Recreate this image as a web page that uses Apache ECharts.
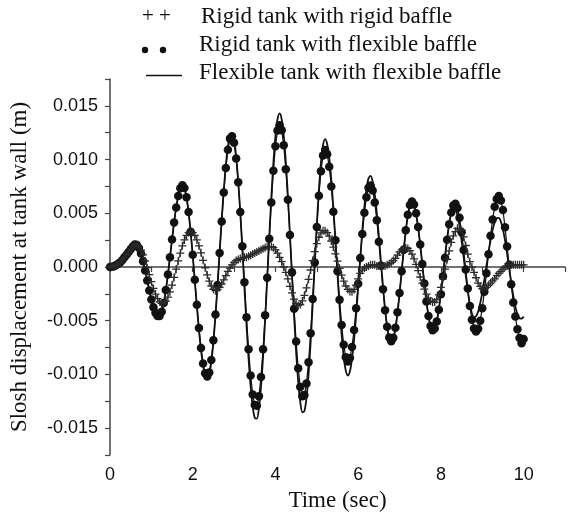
<!DOCTYPE html>
<html><head><meta charset="utf-8">
<script src="https://cdn.jsdelivr.net/npm/echarts@6/dist/echarts.min.js"></script>
<style>html,body{margin:0;padding:0;background:#fff}#c{width:568px;height:520px}</style>
</head><body><div id="c"></div>
<script>
// sampling step of the time series (s), first sample at t = 0
const tStep = 0.05;
// Rigid tank with rigid baffle (+)
const rigidRigid = [
0,0.00002,0.00008,0.00018,0.0003,0.00045,0.00065,0.0009,0.00115,0.0014,0.00165,0.0019,0.0021,0.00207,0.0019,0.00157,0.00112,0.00057,-0.00006,-0.00072,
-0.00137,-0.00199,-0.00252,-0.00295,-0.00324,-0.00339,-0.00337,-0.00317,-0.00281,-0.00231,-0.00168,-0.00097,-0.0002,0.00057,0.0013,0.00197,0.00252,0.00294,0.0032,0.0033,
0.00321,0.00294,0.00252,0.00197,0.00132,0.00062,-0.00008,-0.00074,-0.00132,-0.00177,-0.00207,-0.0022,-0.0021,-0.0019,-0.0016,-0.0012,-0.0008,-0.0004,-0.0001,0.0002,
0.0004,0.0006,0.0007,0.0008,0.0008,0.0009,0.0009,0.001,0.0011,0.0012,0.0013,0.0014,0.0015,0.0016,0.0017,0.0018,0.0019,0.0019,0.0019,0.0018,
0.0016,0.0013,0.0009,0.0005,0.0,-0.0005,-0.0011,-0.0018,-0.0024,-0.003,-0.0034,-0.0036,-0.00349,-0.00316,-0.00264,-0.00195,-0.00115,-0.00028,0.0006,0.00144,
0.00218,0.00277,0.00318,0.00338,0.00337,0.00319,0.00287,0.00242,0.00186,0.00122,0.00055,-0.00012,-0.00076,-0.00132,-0.00177,-0.00209,-0.00227,-0.0023,-0.0021,-0.0017,
-0.0011,-0.0006,-0.0003,-0.0001,0.0,0.0001,0.0002,0.0002,0.0002,0.0001,0.0001,0.0001,0.0001,0.0001,0.0002,0.0003,0.0004,0.0006,0.0008,0.0011,
0.0014,0.0016,0.0017,0.0018,0.00173,0.00152,0.0012,0.00076,0.00024,-0.00033,-0.00093,-0.0015,-0.00206,-0.00253,-0.0029,-0.00316,-0.00329,-0.00326,-0.00303,-0.0026,
-0.0019,-0.0011,-0.0002,0.0007,0.0015,0.0023,0.0029,0.0033,0.0036,0.0036,0.0034,0.0028,0.002,0.0012,0.0005,0.0,-0.0005,-0.001,-0.0015,-0.0018,
-0.002,-0.002,-0.0019,-0.0017,-0.0015,-0.0013,-0.0011,-0.0008,-0.0006,-0.0004,-0.0002,0.0,0.0001,0.0002,0.0002,0.0002,0.0002,0.0002,0.0002,0.0002,
0.0002
];
// Rigid tank with flexible baffle (dots)
const rigidFlex = [
0,0.00002,0.00008,0.00018,0.0003,0.00045,0.00065,0.0009,0.00115,0.0014,0.00165,0.0019,0.0021,0.00205,0.00177,0.00125,0.00053,-0.00032,-0.00125,-0.00218,
-0.00303,-0.00375,-0.00427,-0.00455,-0.00456,-0.00416,-0.00334,-0.00215,-0.0007,0.00091,0.00257,0.00415,0.00554,0.00662,0.00733,0.0076,0.00735,0.0065,0.00512,0.00329,
0.00114,-0.00118,-0.00351,-0.00568,-0.00755,-0.00899,-0.00989,-0.0102,-0.00981,-0.00865,-0.00682,-0.00443,-0.00167,0.0013,0.00424,0.00694,0.00921,0.01092,0.01195,0.01218,
0.01156,0.0101,0.0079,0.00512,0.00194,-0.00141,-0.00467,-0.00765,-0.01009,-0.01187,-0.01284,-0.01292,-0.01203,-0.01024,-0.00766,-0.0045,-0.00099,0.00262,0.00601,0.00897,
0.01125,0.0127,0.0132,0.01272,0.01133,0.00911,0.00626,0.00298,-0.0005,-0.00389,-0.00694,-0.00943,-0.01116,-0.01202,-0.01192,-0.01084,-0.00886,-0.00617,-0.00297,0.00042,
0.00372,0.00663,0.00892,0.01039,0.0109,0.0105,0.00933,0.0075,0.00514,0.0025,-0.0004,-0.00304,-0.0054,-0.00723,-0.0084,-0.0088,-0.00846,-0.00745,-0.00587,-0.00385,
-0.00155,0.00083,0.00307,0.00504,0.0065,0.00738,0.00759,0.00711,0.006,0.00435,0.00234,0.00013,-0.00206,-0.00402,-0.00556,-0.00656,-0.0069,-0.00658,-0.00566,-0.00422,
-0.00241,-0.0004,0.00161,0.00342,0.00486,0.00578,0.0061,0.00582,0.005,0.00372,0.0021,0.00029,-0.00154,-0.00321,-0.00457,-0.00549,-0.00589,-0.00573,-0.00508,-0.00398,
-0.00254,-0.00087,0.00087,0.00254,0.00398,0.00508,0.00573,0.00589,0.0055,0.00459,0.00323,0.00158,-0.00023,-0.002,-0.00364,-0.0049,-0.00572,-0.006,-0.00574,-0.005,
-0.00383,-0.00231,-0.00059,0.00119,0.00291,0.00443,0.0056,0.00634,0.0066,0.0062,0.0053,0.0037,0.0019,0.0002,-0.0016,-0.0033,-0.0046,-0.0058,-0.0066,-0.0071,
-0.0067
];
// Flexible tank with flexible baffle (solid line)
const flexFlex = [
0,0.00002,0.00008,0.00018,0.0003,0.00045,0.00065,0.0009,0.00115,0.0014,0.00165,0.0019,0.0021,0.00205,0.00177,0.00125,0.00053,-0.00032,-0.00125,-0.00218,
-0.00303,-0.00375,-0.00427,-0.00455,-0.00456,-0.00416,-0.00334,-0.00215,-0.0007,0.00091,0.00257,0.00415,0.00554,0.00662,0.00733,0.0076,0.00735,0.00649,0.00509,0.00324,
0.00107,-0.00128,-0.00363,-0.00583,-0.00772,-0.00918,-0.01009,-0.0104,-0.01,-0.00882,-0.00694,-0.0045,-0.00168,0.00136,0.00436,0.00712,0.00944,0.01119,0.01225,0.01248,
0.01182,0.01027,0.00795,0.005,0.00163,-0.00192,-0.00538,-0.00853,-0.01112,-0.013,-0.01403,-0.01412,-0.01315,-0.01119,-0.00839,-0.00495,-0.00113,0.00279,0.00648,0.0097,
0.01218,0.01376,0.0143,0.01377,0.01224,0.00979,0.00664,0.00303,-0.00081,-0.00455,-0.00791,-0.01066,-0.01257,-0.01352,-0.0134,-0.0122,-0.01,-0.00702,-0.00348,0.00028,
0.00394,0.00717,0.00971,0.01134,0.0119,0.01145,0.01015,0.00811,0.00547,0.00246,-0.00066,-0.00367,-0.00631,-0.00835,-0.00965,-0.0101,-0.00971,-0.00857,-0.00678,-0.00448,
-0.00188,0.00082,0.00337,0.0056,0.00725,0.00825,0.00848,0.00797,0.00679,0.00503,0.00287,0.00051,-0.00182,-0.00392,-0.00557,-0.00664,-0.007,-0.00668,-0.00576,-0.00432,
-0.00251,-0.0005,0.00151,0.00332,0.00476,0.00568,0.006,0.00572,0.00491,0.00364,0.00203,0.00023,-0.00158,-0.00323,-0.00459,-0.0055,-0.00589,-0.00573,-0.00505,-0.00391,
-0.00242,-0.00072,0.00102,0.00265,0.00401,0.00498,0.00545,0.00541,0.00484,0.00383,0.00247,0.00089,-0.00073,-0.00224,-0.00349,-0.00433,-0.00469,-0.00459,-0.00414,-0.00338,
-0.00238,-0.00119,0.00008,0.00134,0.00248,0.00346,0.00415,0.00454,0.00457,0.00421,0.0035,0.00248,0.00125,-0.0001,-0.00145,-0.00268,-0.0037,-0.00441,-0.00477,-0.0048,
-0.0046
];
const legendNames = ['Rigid tank with rigid baffle','Rigid tank with flexible baffle','Flexible tank with flexible baffle'];
const xTitle = 'Time (sec)';
const yTitle = 'Slosh displacement at tank wall (m)';

function pairs(arr){ return arr.map((v,i)=>[+(i*tStep).toFixed(2), v]); }

const serif = '"Liberation Serif","Times New Roman",serif';
const sans = '"Liberation Sans",Arial,sans-serif';
const ink = '#111';
const plusPath = 'path://M4.2,0H5.8V4.2H10V5.8H5.8V10H4.2V5.8H0V4.2H4.2Z';

const chart = echarts.init(document.getElementById('c'), null, {renderer:'canvas'});
chart.setOption({
  animation:false,
  backgroundColor:'#fff',
  grid:{left:110, top:79, width:466, height:376},
  xAxis:{type:'value', min:0, max:11, interval:1,
    name:xTitle, nameLocation:'middle', nameGap:34,
    nameTextStyle:{fontFamily:serif, fontSize:23, color:ink},
    axisLine:{lineStyle:{color:'#444', width:1.5}},
    axisTick:{inside:false, length:5, lineStyle:{color:'#444', width:1.2}},
    axisLabel:{margin:11, fontFamily:sans, fontSize:18, color:ink,
      formatter:v=> (Math.round(v)%2===0 && v<=10) ? String(Math.round(v)) : ''},
    splitLine:{show:false}},
  yAxis:{type:'value', min:-0.0175, max:0.0175, interval:0.0025,
    name:yTitle, nameLocation:'middle', nameGap:79, nameRotate:90,
    nameTextStyle:{fontFamily:serif, fontSize:23, color:ink},
    axisLine:{lineStyle:{color:'#444', width:1.5}},
    axisTick:{inside:false, length:5, lineStyle:{color:'#444', width:1.2}},
    axisLabel:{margin:12, fontFamily:sans, fontSize:18, color:ink,
      formatter:v=>{const k=Math.round(v/0.005); return Math.abs(k*0.005-v)<1e-9 && Math.abs(v)<0.017 ? (k*0.005).toFixed(3) : '';}},
    splitLine:{show:false}},
  series:[
    {name:legendNames[2], type:'line', data:pairs(flexFlex), showSymbol:false, smooth:0.3,
     lineStyle:{color:ink, width:1.8}, z:2},
    {name:legendNames[1], type:'line', data:pairs(rigidFlex), symbol:'circle', symbolSize:8.5,
     itemStyle:{color:ink}, lineStyle:{color:ink, width:1.2}, z:3},
    {name:legendNames[0], type:'line', data:pairs(rigidRigid), symbol:plusPath, symbolSize:8,
     itemStyle:{color:'#2a2a2a'}, lineStyle:{color:'#2a2a2a', width:0.9}, z:4}
  ],
  graphic:[
    {type:'text', left:142, top:6, style:{text:'+ +', font:'21px '+serif, fill:ink}},
    {type:'text', left:201, top:5, style:{text:legendNames[0], font:'23px '+serif, fill:ink}},
    {type:'circle', shape:{cx:145, cy:50, r:3.2}, style:{fill:ink}},
    {type:'circle', shape:{cx:163, cy:50, r:3.2}, style:{fill:ink}},
    {type:'text', left:199, top:33, style:{text:legendNames[1], font:'23px '+serif, fill:ink}},
    {type:'line', shape:{x1:146, y1:75.5, x2:182, y2:75.5}, style:{stroke:ink, lineWidth:1.5}},
    {type:'text', left:199, top:61, style:{text:legendNames[2], font:'23px '+serif, fill:ink}}
  ]
});
</script></body></html>
